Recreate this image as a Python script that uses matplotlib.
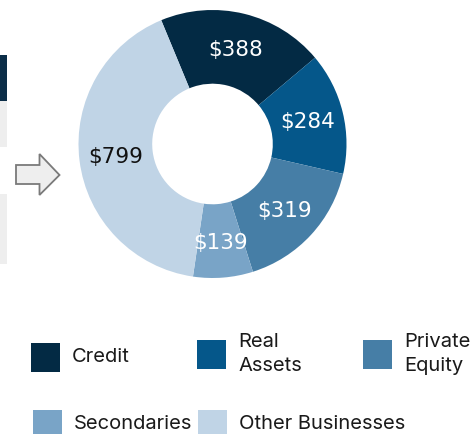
import matplotlib.pyplot as plt
from matplotlib.patches import Rectangle, Polygon
import numpy as np

# segment values ($)
categories = ['Credit', 'Real Assets', 'Private Equity', 'Secondaries', 'Other Businesses']
values = [388, 284, 319, 139, 799]
colors = ['#032a44', '#05578a', '#467ea6', '#79a4c7', '#c0d4e6']
label_colors = ['white', 'white', 'white', 'white', '#111111']
legend_labels = ['Credit', 'Real\nAssets', 'Private\nEquity', 'Secondaries', 'Other Businesses']

W, H = 475, 435
fig = plt.figure(figsize=(W / 100, H / 100), dpi=100)
ax = fig.add_axes([0, 0, 1, 1])

# donut, drawn in pixel-like coordinates (y measured from bottom)
cx, cy, R = 212.5, H - 145, 134
wedges, _ = ax.pie(values, colors=colors, startangle=112.5, counterclock=False,
                   center=(cx, cy), radius=R,
                   wedgeprops=dict(width=R * 0.55, linewidth=0))

for w, v, c in zip(wedges, values, label_colors):
    ang = np.deg2rad((w.theta1 + w.theta2) / 2)
    ax.text(cx + 0.73 * R * np.cos(ang), cy + 0.73 * R * np.sin(ang), f'${v}',
            ha='center', va='center', color=c, fontsize=15.5,
            family='DejaVu Sans')

# partial table on the left edge
ax.add_patch(Rectangle((0, H - 102), 7, 46, color='#0b2d48', lw=0))
ax.add_patch(Rectangle((0, H - 148), 7, 46, color='#eeeeee', lw=0))
ax.add_patch(Rectangle((0, H - 265), 7, 70, color='#eeeeee', lw=0))

# arrow pointing at the donut
arrow = [(16, 166), (39.5, 166), (39.5, 155), (59.5, 176), (39.5, 196),
         (39.5, 185), (16, 185)]
ax.add_patch(Polygon([(x, H - y) for x, y in arrow], closed=True,
                     facecolor='#eeeeee', edgecolor='#7a7a7a', lw=1.3))

# legend
legend_pos = [(31, 344), (197, 341), (363, 341), (33, 411), (198, 411)]
for (x, y), lab, col in zip(legend_pos, legend_labels, colors):
    ax.add_patch(Rectangle((x, H - y - 29), 29, 29, color=col, lw=0))
    ax.text(x + 41, H - y - 13, lab, ha='left', va='center', fontsize=14.5,
            color='#1a1a1a', family='Inter', linespacing=1.4)

ax.set_xlim(0, W)
ax.set_ylim(0, H)
ax.set_aspect('auto')
ax.axis('off')

fig.savefig('out.png', dpi=100)
